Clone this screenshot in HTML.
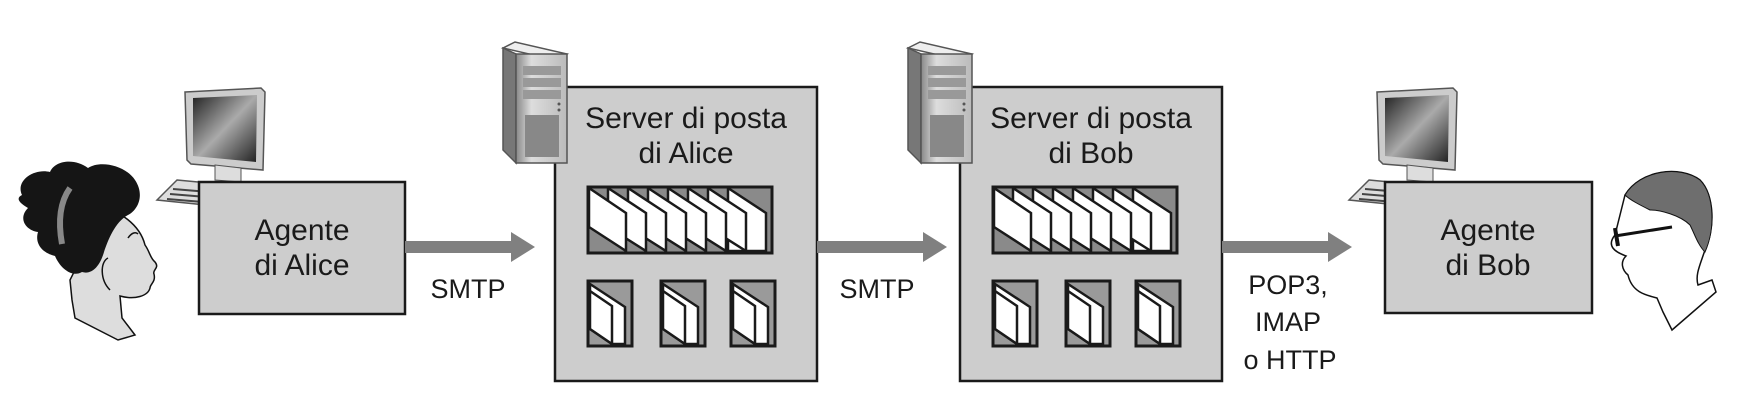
<!DOCTYPE html>
<html><head><meta charset="utf-8"><style>
html,body{margin:0;padding:0;background:#fff;}
svg{display:block;}
text{font-family:"Liberation Sans",sans-serif;fill:#1a1a1a;}
</style></head><body>
<svg width="1754" height="417" viewBox="0 0 1754 417" xmlns="http://www.w3.org/2000/svg">
<defs>
<linearGradient id="scr" x1="0" y1="0" x2="1" y2="1">
<stop offset="0" stop-color="#222"/><stop offset="0.5" stop-color="#aaa"/><stop offset="1" stop-color="#222"/>
</linearGradient>
<linearGradient id="tw" x1="0" y1="0" x2="1" y2="0">
<stop offset="0" stop-color="#888"/><stop offset="0.3" stop-color="#ddd"/><stop offset="1" stop-color="#bbb"/>
</linearGradient>
<g id="bigbox">
<rect x="0" y="0" width="184" height="66" fill="#8a8a8a" stroke="#1a1a1a" stroke-width="3"/>
<g fill="#fff" stroke="#1a1a1a" stroke-width="2.5">
<polygon points="140,1 178,26 178,64 140,64"/>
<polygon points="120,1 158,26 158,64 120,40"/>
<polygon points="100,1 138,26 138,64 100,40"/>
<polygon points="80,1 118,26 118,64 80,40"/>
<polygon points="60,1 98,26 98,64 60,40"/>
<polygon points="40,1 78,26 78,64 40,40"/>
<polygon points="20,1 58,26 58,64 20,40"/>
<polygon points="1,1 38,26 38,64 1,40"/>
</g>
<rect x="0" y="0" width="184" height="66" fill="none" stroke="#1a1a1a" stroke-width="3"/>
</g>
<g id="smallbox">
<rect x="0" y="0" width="44" height="65" fill="#9a9a9a" stroke="#1a1a1a" stroke-width="3"/>
<g fill="#fff" stroke="#1a1a1a" stroke-width="2.5">
<polygon points="2,3 37,26 37,63 24,63 2,48"/>
<polygon points="2,10 24,25 24,63 2,48"/>
</g>
<rect x="0" y="0" width="44" height="65" fill="none" stroke="#1a1a1a" stroke-width="3"/>
</g>
<g id="tower">
<polygon points="0,6 12,0 64,12 52,18" fill="#eee" stroke="#555" stroke-width="1.5"/>
<polygon points="0,6 13,12 13,121 0,108" fill="#777" stroke="#555" stroke-width="1.5"/>
<rect x="13" y="12" width="51" height="109" fill="url(#tw)" stroke="#555" stroke-width="1.5"/>
<rect x="20" y="24" width="38" height="9" fill="#999"/>
<rect x="20" y="36" width="38" height="9" fill="#999"/>
<rect x="20" y="48" width="38" height="9" fill="#999"/>
<circle cx="56" cy="62" r="1.5" fill="#555"/><circle cx="56" cy="68" r="1.5" fill="#555"/>
<rect x="22" y="73" width="34" height="42" fill="#888"/>
</g>
<g id="monitor">
<polygon points="28,4 104,0 108,4 106,82 34,76 30,72" fill="#ccc" stroke="#555" stroke-width="1.5"/>
<polygon points="36,10 100,7 99,74 36,68" fill="url(#scr)"/>
<polygon points="58,77 84,80 84,94 58,92" fill="#ddd" stroke="#555"/>
<polygon points="20,92 105,100 98,122 0,112" fill="#ddd" stroke="#555" stroke-width="1.5"/>
<line x1="16" y1="101" x2="88" y2="107" stroke="#444" stroke-width="2"/>
<line x1="13" y1="106" x2="86" y2="112" stroke="#444" stroke-width="2"/>
<line x1="10" y1="111" x2="82" y2="117" stroke="#444" stroke-width="2"/>
</g>
<g id="arrow">
<rect x="0" y="-6" width="112" height="12" fill="#808080"/>
<polygon points="106,-15 130,0 106,15" fill="#808080"/>
</g>
</defs>

<!-- Alice face -->
<g>
<path d="M95,205 C120,210 140,225 145,245 C150,252 150,258 155,262 C160,268 152,270 154,274 C156,282 150,284 150,288 C148,296 135,300 120,296 L122,318 L135,335 L118,340 L75,318 L72,300 L70,280 L85,250 Z" fill="#ddd" stroke="#111" stroke-width="1.5"/>
<path d="M22,195 C15,180 35,168 50,172 C55,160 75,158 88,168 C100,160 125,165 135,180 C145,195 138,210 128,215 C115,222 108,240 104,252 C100,266 92,275 82,272 C72,278 60,268 55,256 C40,252 35,242 38,232 C25,230 18,218 28,208 C18,202 16,198 22,195 Z" fill="#151515"/>
<path d="M70,188 C60,202 58,222 62,244" stroke="#888" stroke-width="6" fill="none"/>
<path d="M108,258 C100,262 100,280 110,290" stroke="#111" stroke-width="1.5" fill="#ddd"/>
<path d="M128,238 C132,232 136,232 138,234" stroke="#111" stroke-width="1.5" fill="none"/>
</g>

<use href="#monitor" x="157" y="88"/>
<rect x="199" y="182" width="206" height="132" fill="#cdcdcd" stroke="#1a1a1a" stroke-width="2.5"/>
<text x="302" y="240" font-size="30" text-anchor="middle">Agente</text>
<text x="302" y="275" font-size="30" text-anchor="middle">di Alice</text>

<use href="#arrow" x="405" y="247"/>
<text x="468" y="298" font-size="27" text-anchor="middle">SMTP</text>

<!-- Alice server -->
<rect x="555" y="87" width="262" height="294" fill="#cdcdcd" stroke="#1a1a1a" stroke-width="2.5"/>
<use href="#tower" x="503" y="42"/>
<text x="686" y="128" font-size="30" text-anchor="middle">Server di posta</text>
<text x="686" y="163" font-size="30" text-anchor="middle">di Alice</text>
<use href="#bigbox" x="588" y="187"/>
<use href="#smallbox" x="588" y="281"/>
<use href="#smallbox" x="661" y="281"/>
<use href="#smallbox" x="731" y="281"/>

<use href="#arrow" x="817" y="247"/>
<text x="877" y="298" font-size="27" text-anchor="middle">SMTP</text>

<!-- Bob server -->
<rect x="960" y="87" width="262" height="294" fill="#cdcdcd" stroke="#1a1a1a" stroke-width="2.5"/>
<use href="#tower" x="908" y="42"/>
<text x="1091" y="128" font-size="30" text-anchor="middle">Server di posta</text>
<text x="1091" y="163" font-size="30" text-anchor="middle">di Bob</text>
<use href="#bigbox" x="993" y="187"/>
<use href="#smallbox" x="993" y="281"/>
<use href="#smallbox" x="1066" y="281"/>
<use href="#smallbox" x="1136" y="281"/>

<use href="#arrow" x="1222" y="247"/>
<text x="1288" y="294" font-size="27" text-anchor="middle">POP3,</text>
<text x="1288" y="331" font-size="27" text-anchor="middle">IMAP</text>
<text x="1290" y="369" font-size="27" text-anchor="middle">o HTTP</text>

<use href="#monitor" x="1349" y="88"/>
<rect x="1385" y="182" width="207" height="131" fill="#cdcdcd" stroke="#1a1a1a" stroke-width="2.5"/>
<text x="1488" y="240" font-size="30" text-anchor="middle">Agente</text>
<text x="1488" y="275" font-size="30" text-anchor="middle">di Bob</text>

<!-- Bob face -->
<g>
<path d="M1625,195 C1640,170 1680,165 1700,180 C1715,195 1715,230 1705,250 C1700,265 1695,275 1698,285 L1712,280 L1716,292 L1672,330 L1663,312 L1657,298 C1645,295 1632,292 1628,275 C1622,270 1620,262 1626,256 C1615,252 1606,246 1615,235 Z" fill="#fff" stroke="#111" stroke-width="1.5"/>
<path d="M1625,195 C1640,170 1680,165 1700,180 C1715,195 1715,230 1705,252 C1698,245 1695,235 1690,225 C1680,215 1660,210 1650,210 C1640,205 1630,200 1625,195 Z" fill="#6e6e6e" stroke="#111" stroke-width="1"/>
<line x1="1615" y1="236" x2="1672" y2="227" stroke="#111" stroke-width="3"/>
<line x1="1615" y1="228" x2="1618" y2="246" stroke="#111" stroke-width="4"/>
</g>
</svg>
</body></html>
